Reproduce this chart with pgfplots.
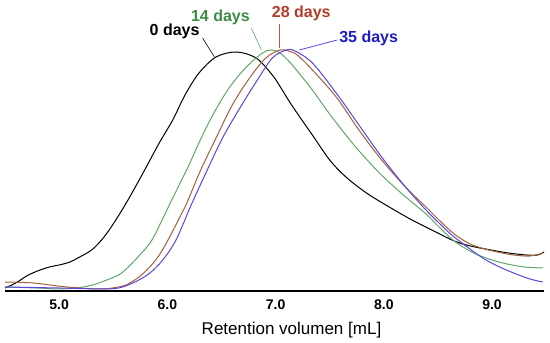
\documentclass[border=0pt]{standalone}
\usepackage{pgfplots}
\pgfplotsset{compat=1.18}
\usepackage{fontspec}
\setmainfont{Liberation Sans}
\definecolor{gcurve}{RGB}{95,168,106}
\definecolor{rcurve}{RGB}{165,95,60}
\definecolor{bcurve}{RGB}{90,70,220}
\definecolor{glab}{RGB}{60,140,70}
\definecolor{rlab}{RGB}{180,60,40}
\definecolor{blab}{RGB}{30,30,200}
\begin{document}
\begin{tikzpicture}
\begin{axis}[
  scale only axis, width=539pt, height=291pt,
  xmin=4.5, xmax=9.48, ymin=0, ymax=291,
  axis x line*=bottom, axis y line=none,
  axis line style={line width=1.2pt, -},
  xtick={5,6,7,8,9}, xticklabels={5.0,6.0,7.0,8.0,9.0},
  major tick length=0pt,
  ticklabel style={font=\fontsize{14}{14}\selectfont\bfseries},
  xticklabel style={yshift=-5pt},
  /pgf/number format/assume math mode=true,
  xlabel={Retention volumen [mL]},
  xlabel style={font=\fontsize{17}{17}\selectfont, yshift=-6pt, xshift=17pt},
  clip=false,
  every axis plot/.append style={line width=1pt, smooth, tension=0.55, no markers},
]
\addplot[black] coordinates {(4.5,3) (4.6,8) (4.7,15) (4.8,20) (4.91,24) (5.0,26) (5.1,29) (5.19,34) (5.3,41) (5.4,52) (5.5,67) (5.62,88) (5.74,111) (5.84,131) (5.93,149) (6.05,171) (6.13,189) (6.2,203) (6.3,219) (6.45,234) (6.635,239) (6.82,233) (6.97,216) (7.05,203) (7.13,189) (7.23,173) (7.34,156) (7.5,131) (7.65,114) (7.84,98) (8.05,84) (8.26,71) (8.48,59) (8.65,50) (8.8,45) (8.99,41) (9.15,38) (9.32,36) (9.42,36) (9.48,39)};
\addplot[gcurve] coordinates {(4.5,4) (4.8,3) (5.0,2) (5.16,3) (5.31,6) (5.44,11) (5.55,16) (5.62,22) (5.72,33) (5.84,48) (5.92,64) (6.0,82) (6.1,104) (6.2,126) (6.3,150) (6.42,176) (6.57,203) (6.73,224) (6.88,238) (6.96,241) (7.04,238) (7.13,229) (7.23,216) (7.34,201) (7.52,174) (7.74,144) (7.96,118) (8.17,97) (8.39,77) (8.51,64) (8.65,50) (8.83,38) (9.0,31) (9.14,27) (9.3,24) (9.47,23)};
\addplot[rcurve] coordinates {(4.5,9) (4.76,8) (5.07,4) (5.38,2) (5.55,4) (5.62,6) (5.75,15) (5.87,28) (5.96,42) (6.05,60) (6.12,75) (6.18,88) (6.3,119) (6.45,153) (6.6,186) (6.76,213) (6.91,233) (7.04,241) (7.12,240) (7.2,236) (7.34,221) (7.56,194) (7.77,161) (7.98,131) (8.2,104) (8.39,84) (8.51,71) (8.65,57) (8.78,48) (8.9,43) (9.05,39) (9.2,36) (9.35,35) (9.47,38)};
\addplot[bcurve] coordinates {(4.5,4) (5.0,3) (5.38,2) (5.55,3) (5.68,8) (5.8,15) (5.9,24) (6.0,37) (6.08,51) (6.15,68) (6.22,86) (6.36,119) (6.51,153) (6.67,183) (6.82,209) (6.97,233) (7.1,241) (7.18,240) (7.34,228) (7.56,198) (7.77,166) (7.98,134) (8.2,104) (8.39,81) (8.51,68) (8.65,54) (8.9,34) (9.05,25) (9.2,18) (9.35,12) (9.47,9)};
\node[font=\fontsize{16}{16}\selectfont\bfseries, black] at (axis cs:6.067,260) {0 days};
\node[font=\fontsize{16}{16}\selectfont\bfseries, glab] at (axis cs:6.49,274) {14 days};
\node[font=\fontsize{16}{16}\selectfont\bfseries, rlab] at (axis cs:7.237,278) {28 days};
\node[font=\fontsize{16}{16}\selectfont\bfseries, blab] at (axis cs:7.86,253) {35 days};
\draw[black, line width=0.6pt] (axis cs:6.325,253) -- (axis cs:6.435,234);
\draw[gcurve, line width=0.6pt] (axis cs:6.776,263) -- (axis cs:6.869,241);
\draw[rcurve, line width=0.6pt] (axis cs:7.035,267) -- (axis cs:7.035,243);
\draw[bcurve, line width=0.8pt] (axis cs:7.219,241) -- (axis cs:7.569,251);
\end{axis}
\pgfresetboundingbox
\path (-5pt,-52pt) rectangle (545pt,291pt);
\end{tikzpicture}
\end{document}
